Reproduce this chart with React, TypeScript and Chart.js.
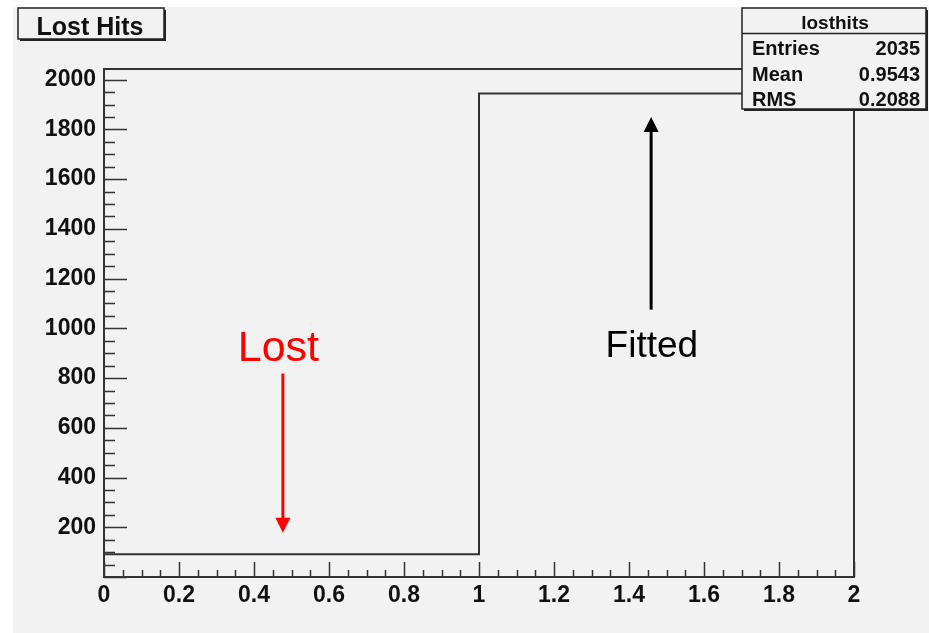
import React, { useEffect, useRef } from "react";
import { Chart, registerables } from "chart.js";

Chart.register(...registerables);

// Histogram data
const binEdges = [0, 1, 2];
const binCounts = [91, 1944];

// Axis setup
const xMin = 0;
const xMax = 2;
const xMajorStep = 0.2;
const xMinorStep = 0.05;
const yMin = 0;
const yMax = 2043;
const yMajorStep = 200;
const yMinorStep = 50;

// Title and stats
const histTitle = "Lost Hits";
const statsName = "losthits";
const statsLabels = ["Entries", "Mean", "RMS"];
const statsValues = ["2035", "0.9543", "0.2088"];

// Annotations
const annoTexts = ["Lost", "Fitted"];
const annoTextX = [0.465, 1.461];
const annoTextY = [870, 886];
const annoSizes = [43, 37];
const annoColors = ["#ff0000", "#000000"];
// Arrows: x, yFrom, yTo
const arrowX = [0.477, 1.459];
const arrowFrom = [818, 1075];
const arrowTo = [178, 1850];

const FONT = '"Liberation Sans", Arial, Helvetica, sans-serif';

const decorPlugin = {
  id: "decor",
  beforeDraw(chart: any) {
    const ctx = chart.ctx;
    ctx.save();
    ctx.fillStyle = "#ffffff";
    ctx.fillRect(0, 0, chart.width, chart.height);
    ctx.fillStyle = "#f2f2f2";
    ctx.fillRect(13, 7, chart.width - 13, chart.height - 7);
    ctx.restore();
  },
  afterDraw(chart: any) {
    const ctx = chart.ctx;
    const xs = chart.scales.x;
    const ys = chart.scales.y;
    const a = chart.chartArea;
    ctx.save();
    // frame
    ctx.strokeStyle = "#333333";
    ctx.lineWidth = 2;
    ctx.strokeRect(a.left, a.top, a.right - a.left, a.bottom - a.top);
    // ticks (inward)
    ctx.lineWidth = 1.5;
    ctx.beginPath();
    const nx = Math.round((xMax - xMin) / xMinorStep);
    for (let i = 0; i <= nx; i++) {
      const v = xMin + i * xMinorStep;
      const px = Math.round(xs.getPixelForValue(v)) + 0.5;
      const major = i % Math.round(xMajorStep / xMinorStep) === 0;
      const len = major ? 15 : 7;
      ctx.moveTo(px, a.bottom);
      ctx.lineTo(px, a.bottom - len);
    }
    const ny = Math.floor((yMax - yMin) / yMinorStep);
    for (let i = 0; i <= ny; i++) {
      const v = yMin + i * yMinorStep;
      const py = Math.round(ys.getPixelForValue(v)) + 0.5;
      const major = i % Math.round(yMajorStep / yMinorStep) === 0;
      const len = major ? 23 : 11;
      ctx.moveTo(a.left, py);
      ctx.lineTo(a.left + len, py);
    }
    ctx.stroke();

    // annotations
    for (let i = 0; i < annoTexts.length; i++) {
      ctx.fillStyle = annoColors[i];
      ctx.font = `${annoSizes[i]}px ${FONT}`;
      ctx.textAlign = "center";
      ctx.textBaseline = "alphabetic";
      ctx.fillText(annoTexts[i], xs.getPixelForValue(annoTextX[i]), ys.getPixelForValue(annoTextY[i]));
    }
    for (let i = 0; i < arrowX.length; i++) {
      const px = xs.getPixelForValue(arrowX[i]);
      const y0 = ys.getPixelForValue(arrowFrom[i]);
      const y1 = ys.getPixelForValue(arrowTo[i]);
      const dir = y1 > y0 ? 1 : -1;
      ctx.strokeStyle = annoColors[i];
      ctx.fillStyle = annoColors[i];
      ctx.lineWidth = 3;
      ctx.beginPath();
      ctx.moveTo(px, y0);
      ctx.lineTo(px, y1 - dir * 12);
      ctx.stroke();
      ctx.beginPath();
      ctx.moveTo(px, y1);
      ctx.lineTo(px - 7.5, y1 - dir * 15);
      ctx.lineTo(px + 7.5, y1 - dir * 15);
      ctx.closePath();
      ctx.fill();
    }

    const drawBox = (x: number, y: number, w: number, h: number) => {
      ctx.fillStyle = "#222222";
      ctx.fillRect(x + 2, y + 2, w, h);
      ctx.fillStyle = "#f2f2f2";
      ctx.fillRect(x, y, w, h);
      ctx.strokeStyle = "#222222";
      ctx.lineWidth = 1.5;
      ctx.strokeRect(x, y, w, h);
    };
    // title box
    drawBox(18, 8, 146, 31);
    ctx.fillStyle = "#111111";
    ctx.font = `bold 25px ${FONT}`;
    ctx.textAlign = "center";
    ctx.textBaseline = "alphabetic";
    ctx.fillText(histTitle, 90, 35);

    // stats box
    drawBox(742, 8, 184, 101);
    ctx.strokeStyle = "#222222";
    ctx.lineWidth = 1.5;
    ctx.beginPath();
    ctx.moveTo(742, 33.5);
    ctx.lineTo(926, 33.5);
    ctx.stroke();
    ctx.fillStyle = "#111111";
    ctx.font = `bold 19px ${FONT}`;
    ctx.textAlign = "center";
    ctx.fillText(statsName, 835, 29);
    ctx.font = `bold 20px ${FONT}`;
    for (let i = 0; i < statsLabels.length; i++) {
      const by = 55 + i * 25.5;
      ctx.textAlign = "left";
      ctx.fillText(statsLabels[i], 752, by);
      ctx.textAlign = "right";
      ctx.fillText(statsValues[i], 920, by);
    }
    ctx.restore();
  },
};

export default function App() {
  const ref = useRef<HTMLCanvasElement | null>(null);
  useEffect(() => {
    document.body.style.margin = "0";
    const points: { x: number; y: number }[] = [];
    for (let i = 0; i < binCounts.length; i++) {
      points.push({ x: binEdges[i], y: binCounts[i] });
    }
    points.push({ x: binEdges[binEdges.length - 1], y: binCounts[binCounts.length - 1] });
    const chart = new Chart(ref.current as HTMLCanvasElement, {
      type: "line",
      data: {
        datasets: [
          {
            data: points,
            stepped: "before",
            borderColor: "#333333",
            borderWidth: 2,
            pointRadius: 0,
            fill: false,
          },
        ],
      },
      options: {
        animation: false,
        responsive: false,
        devicePixelRatio: 1,
        layout: { padding: { left: 0, top: 69, right: 75, bottom: 0 } },
        plugins: { legend: { display: false }, tooltip: { enabled: false } },
        scales: {
          x: {
            type: "linear",
            min: xMin,
            max: xMax,
            grid: { display: false, drawTicks: false },
            border: { display: false },
            afterFit: (s: any) => {
              s.height = 56;
            },
            ticks: {
              stepSize: xMajorStep,
              padding: 5,
              maxRotation: 0,
              autoSkip: false,
              color: "#111111",
              font: { family: FONT, size: 23, weight: "bold" },
              callback: (v: any) => String(Number(Number(v).toFixed(1))),
            },
          },
          y: {
            type: "linear",
            min: yMin,
            max: yMax,
            grid: { display: false, drawTicks: false },
            border: { display: false },
            afterFit: (s: any) => {
              s.width = 104;
            },
            ticks: {
              stepSize: yMajorStep,
              includeBounds: false,
              padding: 8,
              autoSkip: false,
              color: "#111111",
              font: { family: FONT, size: 23, weight: "bold" },
              callback: (v: any) => (Number(v) === 0 || Number(v) % yMajorStep !== 0 ? "" : String(v)),
            },
          },
        },
      },
      plugins: [decorPlugin],
    } as any);
    return () => chart.destroy();
  }, []);
  return (
    <div style={{ position: "fixed", left: 0, top: 0, width: 929, height: 633 }}>
      <canvas ref={ref} width={929} height={633} />
    </div>
  );
}
